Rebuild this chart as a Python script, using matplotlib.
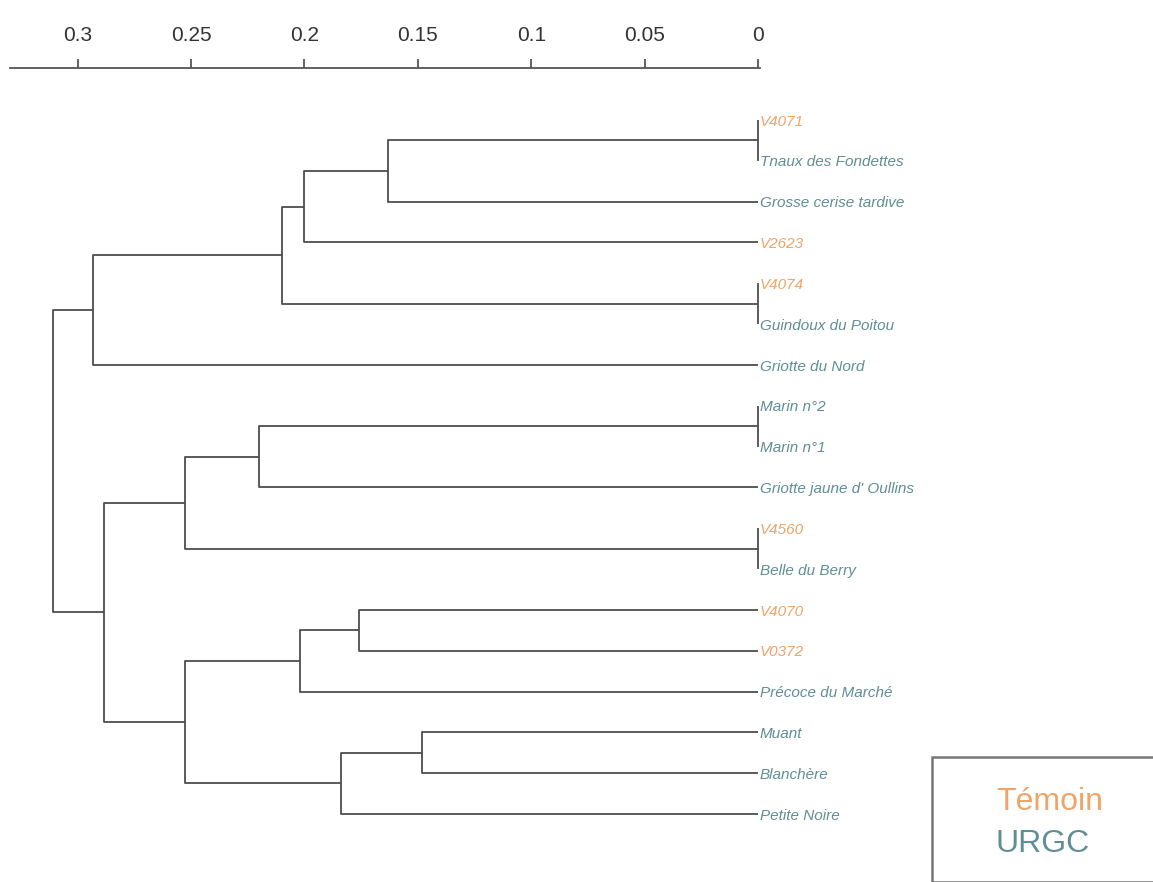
import matplotlib
matplotlib.use("Agg")
import matplotlib.pyplot as plt
from matplotlib.patches import Rectangle

plt.rcParams["font.family"] = ["Liberation Sans", "DejaVu Sans"]

# ── Data ───────────────────────────────────────────────────────────────────────
leaves = ["V4071", "Tnaux des Fondettes", "Grosse cerise tardive", "V2623",
          "V4074", "Guindoux du Poitou", "Griotte du Nord", "Marin n°2",
          "Marin n°1", "Griotte jaune d' Oullins", "V4560", "Belle du Berry",
          "V4070", "V0372", "Précoce du Marché", "Muant", "Blanchère",
          "Petite Noire"]
groups = ["Témoin", "URGC", "URGC", "Témoin", "Témoin", "URGC", "URGC", "URGC",
          "URGC", "URGC", "Témoin", "URGC", "Témoin", "Témoin", "URGC", "URGC",
          "URGC", "URGC"]

# merges: (left node, right node, height); leaves are 0..17, new nodes 18..
merge_left = [0, 18, 19, 4, 20, 22, 7, 24, 10, 25, 12, 28, 15, 30, 29, 27, 23]
merge_right = [1, 2, 3, 5, 21, 6, 8, 9, 11, 26, 13, 14, 16, 17, 31, 32, 33]
merge_height = [0.0, 0.163, 0.200, 0.0, 0.210, 0.293, 0.0, 0.220, 0.0, 0.2525,
                0.176, 0.202, 0.148, 0.184, 0.2525, 0.2885, 0.311]

ticks = [0.3, 0.25, 0.2, 0.15, 0.1, 0.05, 0]
tick_labels = ["0.3", "0.25", "0.2", "0.15", "0.1", "0.05", "0"]

group_colours = {"Témoin": "#f0a468", "URGC": "#5f8e94"}
LINE = "#4d4d4d"

# ── Figure ─────────────────────────────────────────────────────────────────────
W, H = 1153, 882
fig = plt.figure(figsize=(W / 100, H / 100), dpi=100)
ax = fig.add_axes([10 / W, 0, 750 / W, 1 - 68 / H])

px_per_unit = 2274
ax.set_xlim(750 / px_per_unit, -2 / px_per_unit)
step = (814 - 120) / 17
ax.set_ylim(17 + (882 - 814) / step, -(120 - 68) / step)

# node positions
pos_y = {i: float(i) for i in range(len(leaves))}
pos_x = {i: 0.0 for i in range(len(leaves))}
for k, (a, b, h) in enumerate(zip(merge_left, merge_right, merge_height)):
    node = len(leaves) + k
    ax.plot([pos_x[a], h, h, pos_x[b]], [pos_y[a], pos_y[a], pos_y[b], pos_y[b]],
            color=LINE, lw=1.3, solid_capstyle="butt", zorder=2)
    pos_x[node] = h
    pos_y[node] = (pos_y[a] + pos_y[b]) / 2

for i, (name, g) in enumerate(zip(leaves, groups)):
    ax.text(-2 / px_per_unit, i + 0.04, name, color=group_colours[g], fontsize=11,
            style="italic", ha="left", va="center", clip_on=False)

# axis: only top spine with upward ticks
for s in ["left", "right", "bottom"]:
    ax.spines[s].set_visible(False)
ax.spines["top"].set_color("#555555")
ax.spines["top"].set_linewidth(1.3)
ax.xaxis.tick_top()
ax.set_xticks(ticks)
ax.set_xticklabels(tick_labels)
ax.tick_params(axis="x", direction="out", length=6.5, width=1.3, color="#555555",
               labelsize=15, labelcolor="#333333", pad=10)
ax.set_yticks([])
ax.patch.set_alpha(0)

# legend box
fig.patches.append(Rectangle((932 / W, 0), 0.5, 1 - 757 / H, transform=fig.transFigure,
                             fill=False, edgecolor="#777777", lw=1.8))
fig.text(996 / W, 1 - 802 / H, "Témoin", color=group_colours["Témoin"],
         fontsize=23, ha="left", va="center")
fig.text(996 / W, 1 - 844 / H, "URGC", color=group_colours["URGC"],
         fontsize=23, ha="left", va="center")

fig.savefig("out.png", dpi=100)
